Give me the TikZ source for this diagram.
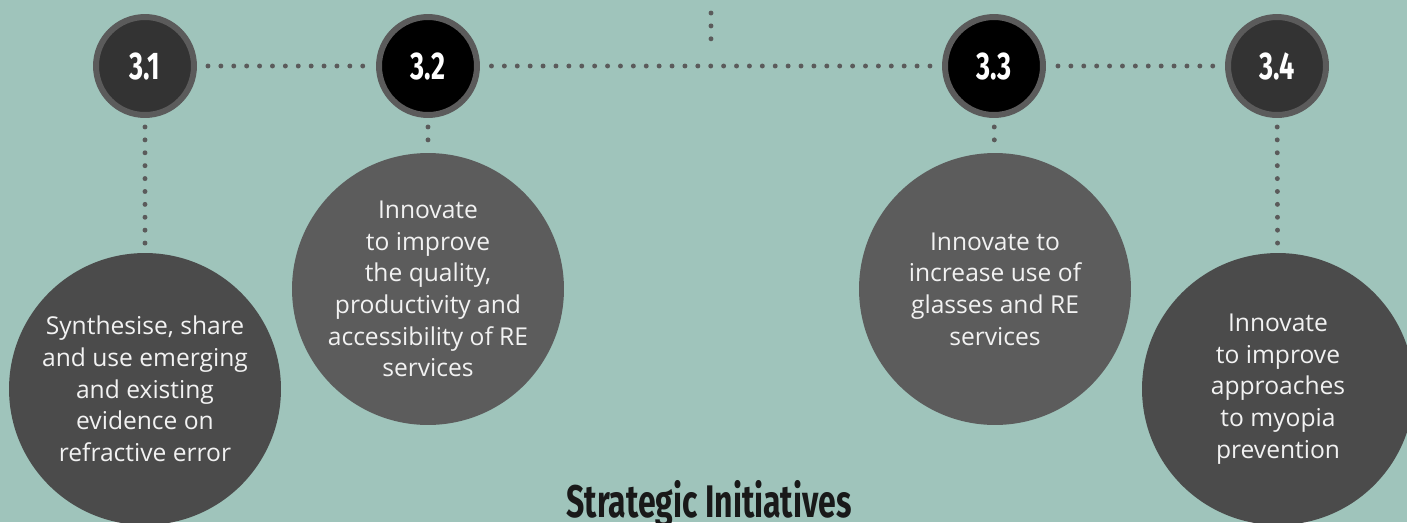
\documentclass[tikz,border=0pt]{standalone}
\usepackage{fontspec}
\setmainfont{Open Sans}
\newfontfamily\headfont[FakeStretch=0.7]{Fira Sans}

\definecolor{sage}{HTML}{9FC4BB}
\definecolor{ringgrey}{HTML}{5B5B5B}
\definecolor{darkfill}{HTML}{333333}
\definecolor{bubbleA}{HTML}{4B4B4B}
\definecolor{bubbleB}{HTML}{5C5C5C}
\definecolor{textwhite}{HTML}{F2F2F2}

\tikzset{
  badge/.style={circle, draw=ringgrey, line width=3.4pt, minimum size=1.96cm,
    inner sep=0pt, text=white, font=\headfont\bfseries\fontsize{22}{22}\selectfont},
  bubble/.style={circle, minimum size=5.44cm, inner sep=0pt, text=textwhite,
    align=center, font=\fontsize{14}{18}\selectfont},
  dotline/.style={ringgrey, line width=2.8pt, line cap=round,
    dash pattern=on 0pt off 0.258cm},
}

\begin{document}
\begin{tikzpicture}[x=0.02cm, y=-0.02cm]
  % canvas
  \useasboundingbox (0,0) rectangle (1407,522);
  \fill[sage] (0,0) rectangle (1407,522);

  % initiative badges
  \node[badge, fill=darkfill] (s1) at (145,66)  {3.1};
  \node[badge, fill=black]    (s2) at (428,66)  {3.2};
  \node[badge, fill=black]    (s3) at (994,66)  {3.3};
  \node[badge, fill=darkfill] (s4) at (1277,66) {3.4};

  % descriptions
  \node[bubble, fill=bubbleA] (b1) at (145,389)
    {Synthesise, share\\and use emerging\\and existing\\evidence on\\refractive error};
  \node[bubble, fill=bubbleB] (b2) at (428,289)
    {Innovate\\to improve\\the quality,\\productivity and\\accessibility of RE\\services};
  \node[bubble, fill=bubbleB] (b3) at (995,289)
    {Innovate to\\increase use of\\glasses and RE\\services};
  \node[bubble, fill=bubbleA] (b4) at (1278,389)
    {Innovate\\to improve\\approaches\\to myopia\\prevention};

  % dotted links
  \coordinate (t1) at (711,13);
  \coordinate (t2) at (711,39);
  \draw[dotline] (t1) -- (t2);
  \draw[dotline, shorten <=0.22cm, shorten >=0.22cm] (s1) -- (s2);
  \draw[dotline, shorten <=0.23cm, shorten >=0.23cm] (s2) -- (s3);
  \draw[dotline, shorten <=0.24cm, shorten >=0.24cm] (s3) -- (s4);
  \foreach \i in {1,...,4}
    \draw[dotline, shorten <=0.18cm, shorten >=0.18cm] (s\i) -- (b\i);

  \node[anchor=base, text=black!90, font=\headfont\bfseries\fontsize{26}{26}\selectfont]
    (title) at (709,517) {Strategic Initiatives};
\end{tikzpicture}
\end{document}
